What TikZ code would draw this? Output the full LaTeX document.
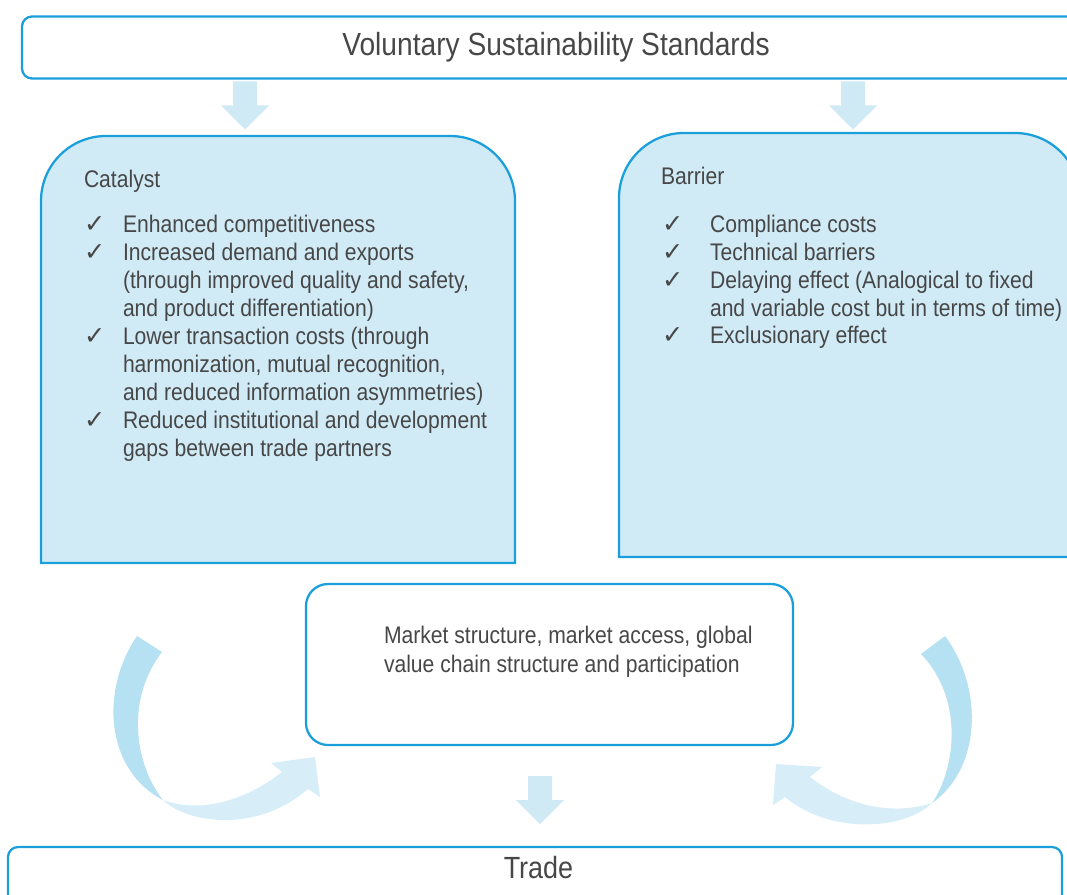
\documentclass[tikz,border=0pt]{standalone}
\usepackage{fontspec}
\setmainfont{Liberation Sans}[FakeStretch=0.88]
\newfontfamily\symfont{DejaVu Sans}
\usetikzlibrary{calc}

\definecolor{vssblue}{HTML}{1A9FDB}
\definecolor{panelfill}{HTML}{D0EAF6}
\definecolor{arrowfill}{HTML}{CFE9F5}
\definecolor{twistdark}{HTML}{B5E1F3}
\definecolor{twistlight}{HTML}{D7EEF8}
\definecolor{inktext}{HTML}{474747}

\newcommand{\chk}{{\symfont\fontsize{19}{19}\selectfont ✓}}
% panel with only the two top corners rounded
\newcommand{\topround}[2]{%
  \filldraw[panel] (#1.south west) -- ([yshift=-#2]#1.north west)
    arc[start angle=180,end angle=90,radius=#2] -- ([xshift=-#2]#1.north east)
    arc[start angle=90,end angle=0,radius=#2] -- (#1.south east) -- cycle;}

\begin{document}
\begin{tikzpicture}[x=0.75pt,y=-0.75pt,
    every node/.style={text=inktext,inner sep=0pt,outer sep=0pt},
    box/.style={draw=vssblue,line width=1.7pt},
    panel/.style={fill=panelfill,draw=vssblue,line width=1.7pt},
    body/.style={font=\fontsize{18}{21}\selectfont},
    big/.style={font=\fontsize{23}{27}\selectfont},
    blockdown/.pic={\fill[arrowfill] (-12,0) -- (12,0) -- (12,24) -- (24,24)
      -- (0,48) -- (-24,24) -- (-12,24) -- cycle;}]
  \useasboundingbox (0,0) rectangle (1067,895);
  \clip (0,0) rectangle (1067,895);

  \node[box,big,font=\fontsize{24}{28}\selectfont,rounded corners=7.5pt,
    minimum width=801pt,minimum height=46.5pt]
    (vss) at (556,47.5) {Voluntary Sustainability Standards};
  \node[minimum width=355.5pt,minimum height=320.25pt] (cat) at (278,349.5) {};
  \node[minimum width=345.75pt,minimum height=318pt] (bar) at (849.5,345) {};
  \topround{cat}{48.75pt}
  \topround{bar}{48.75pt}
  \node[box,rounded corners=16.5pt,minimum width=365.25pt,minimum height=120.75pt]
    (mkt) at (549.5,664.5) {};
  \node[box,rounded corners=7.5pt,minimum width=790.5pt,minimum height=75pt]
    (trade) at (535,897) {};

  % straight arrows
  \coordinate (lx) at (245,0);
  \coordinate (rx) at (853,0);
  \coordinate (mx) at (540,0);
  \pic at ($(vss.south -| lx)+(0,3)$) {blockdown};
  \pic at ($(vss.south -| rx)+(0,3)$) {blockdown};
  \pic at ($(mkt.south -| mx)+(0,31)$) {blockdown};

  % twisted arrows
  \fill[twistdark] (137,636) .. controls (100,690) and (105,770) .. (163,800)
    .. controls (135,765) and (125,700) .. (162,652) -- cycle;
  \fill[twistlight] (163,800) .. controls (185,822) and (255,835) .. (308,789)
    -- (320,797) -- (315,757) -- (271,763) -- (282,772)
    .. controls (240,805) and (195,812) .. (163,800) -- cycle;
  \fill[twistdark] (945,636) .. controls (985,690) and (980,770) .. (932,803)
    .. controls (955,770) and (965,700) .. (921,654) -- cycle;
  \fill[twistlight] (932,803) .. controls (905,830) and (830,835) .. (785,797)
    -- (773,805) -- (776,764) -- (822,767) -- (810,777)
    .. controls (850,808) and (895,815) .. (932,803) -- cycle;

  % texts
  \node[body,anchor=base west] (catlabel) at (84,188) {Catalyst};
  \node[body,anchor=north west] (catlist) at (84,212.4) {%
    \begin{tabular}{@{}p{29.25pt}@{}l@{}}
    \chk & Enhanced competitiveness\\
    \chk & Increased demand and exports\\
         & (through improved quality and safety,\\
         & and product differentiation)\\
    \chk & Lower transaction costs (through\\
         & harmonization, mutual recognition,\\
         & and reduced information asymmetries)\\
    \chk & Reduced institutional and development\\
         & gaps between trade partners
    \end{tabular}};
  \node[body,anchor=base west] (barlabel) at (661,185) {Barrier};
  \node[body,anchor=north west] (barlist) at (662,212.4) {%
    \begin{tabular}{@{}p{36pt}@{}l@{}}
    \chk & Compliance costs\\
    \chk & Technical barriers\\
    \chk & Delaying effect (Analogical to fixed\\
         & and variable cost but in terms of time)\\
    \chk & Exclusionary effect
    \end{tabular}};
  \node[anchor=north west,font=\fontsize{18}{21.75}\selectfont] (mkttext) at (384,622.7) {%
    \begin{tabular}{@{}l@{}}
    Market structure, market access, global\\
    value chain structure and participation
    \end{tabular}};
  \node[big,anchor=base] (tradelabel) at (538.5,878) {Trade};
\end{tikzpicture}
\end{document}
